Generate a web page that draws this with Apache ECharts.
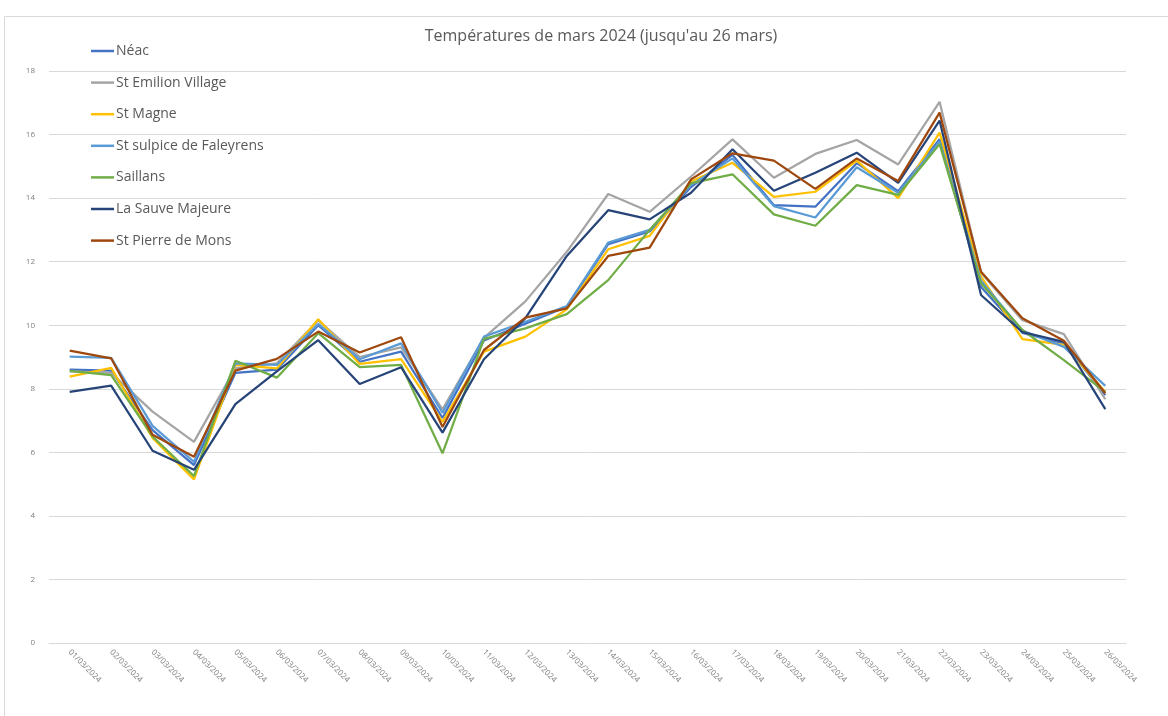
<!DOCTYPE html>
<html>
<head>
<meta charset="utf-8">
<script src="https://cdn.jsdelivr.net/npm/echarts@6/dist/echarts.min.js"></script>
<style>
  html, body { margin: 0; padding: 0; background: #fff; }
  #chart { width: 1168px; height: 716px; }
</style>
</head>
<body>
<div id="chart"></div>
<script>
const days = [
  '01/03/2024', '02/03/2024', '03/03/2024', '04/03/2024', '05/03/2024', '06/03/2024',
  '07/03/2024', '08/03/2024', '09/03/2024', '10/03/2024', '11/03/2024', '12/03/2024',
  '13/03/2024', '14/03/2024', '15/03/2024', '16/03/2024', '17/03/2024', '18/03/2024',
  '19/03/2024', '20/03/2024', '21/03/2024', '22/03/2024', '23/03/2024', '24/03/2024',
  '25/03/2024', '26/03/2024'
];

const neac = [8.6, 8.57, 6.7, 5.6, 8.5, 8.6, 10.0, 8.85, 9.17, 7.08, 9.52, 10.05, 10.58, 12.55, 12.95, 14.35, 15.36, 13.78, 13.73, 15.1, 14.22, 15.85, 11.2, 9.76, 9.43, 7.8];
const stEmilion = [8.55, 8.5, 7.28, 6.33, 8.65, 8.8, 10.15, 9.0, 9.3, 7.35, 9.6, 10.75, 12.31, 14.13, 13.57, 14.68, 15.85, 14.64, 15.39, 15.83, 15.06, 17.03, 11.65, 10.16, 9.72, 7.67];
const stMagne = [8.38, 8.66, 6.45, 5.15, 8.75, 8.64, 10.19, 8.78, 8.93, 6.96, 9.17, 9.64, 10.5, 12.39, 12.81, 14.52, 15.11, 14.04, 14.2, 15.18, 14.0, 16.06, 11.53, 9.56, 9.38, 7.9];
const stSulpice = [9.01, 8.97, 6.83, 5.7, 8.8, 8.75, 10.04, 8.93, 9.43, 7.24, 9.64, 10.11, 10.6, 12.6, 13.0, 14.41, 15.25, 13.75, 13.39, 14.97, 14.17, 15.78, 11.4, 9.83, 9.32, 8.09];
const saillans = [8.56, 8.43, 6.5, 5.25, 8.88, 8.35, 9.75, 8.68, 8.75, 5.97, 9.57, 9.9, 10.35, 11.42, 13.0, 14.47, 14.75, 13.49, 13.13, 14.41, 14.1, 15.7, 11.32, 9.85, 8.9, 7.9];
const laSauve = [7.9, 8.1, 6.05, 5.45, 7.52, 8.55, 9.53, 8.15, 8.68, 6.62, 8.93, 10.22, 12.18, 13.62, 13.33, 14.17, 15.54, 14.23, 14.8, 15.43, 14.48, 16.44, 10.95, 9.78, 9.48, 7.36];
const stPierre = [9.2, 8.96, 6.55, 5.86, 8.57, 8.94, 9.8, 9.14, 9.62, 6.8, 9.22, 10.24, 10.53, 12.18, 12.44, 14.59, 15.41, 15.18, 14.29, 15.25, 14.54, 16.69, 11.68, 10.22, 9.51, 7.86];

const yTicks = [0, 2, 4, 6, 8, 10, 12, 14, 16, 18];

const stations = [
  { name: 'Néac', data: neac, color: '#4472C4' },
  { name: 'St Emilion Village', data: stEmilion, color: '#A5A5A5' },
  { name: 'St Magne', data: stMagne, color: '#FFC000' },
  { name: 'St sulpice de Faleyrens', data: stSulpice, color: '#5B9BD5' },
  { name: 'Saillans', data: saillans, color: '#70AD47' },
  { name: 'La Sauve Majeure', data: laSauve, color: '#264478' },
  { name: 'St Pierre de Mons', data: stPierre, color: '#9E480E' }
];

const chart = echarts.init(document.getElementById('chart'));

chart.setOption({
  animation: false,
  color: stations.map(s => s.color),
  graphic: [{
    type: 'rect',
    shape: { x: 4.5, y: 16.5, width: 1200, height: 800 },
    style: { fill: 'none', stroke: '#d9d9d9', lineWidth: 1 },
    silent: true
  }],
  title: {
    text: "Températures de mars 2024 (jusqu'au 26 mars)",
    left: 596,
    textAlign: 'center',
    top: 23,
    textStyle: {
      fontFamily: 'Open Sans',
      fontSize: 16,
      fontWeight: 'normal',
      color: '#595959'
    }
  },
  legend: {
    orient: 'vertical',
    left: 86,
    top: 39,
    itemWidth: 23,
    itemHeight: 14,
    itemGap: 17.6,
    icon: 'path://M0,6 L23,6 L23,8.5 L0,8.5 Z',
    textStyle: {
      fontFamily: 'Open Sans',
      fontSize: 14,
      color: '#595959',
      padding: [0, 0, 0, -3]
    },
    data: stations.map(s => s.name)
  },
  grid: {
    left: 49,
    right: 42,
    top: 71,
    bottom: 73
  },
  xAxis: {
    type: 'category',
    data: days,
    boundaryGap: true,
    axisLine: { lineStyle: { color: '#d9d9d9' } },
    axisTick: { show: false },
    axisLabel: {
      rotate: -45,
      fontFamily: 'Open Sans',
      fontSize: 8,
      color: '#7f7f7f',
      margin: 8,
      interval: 0
    }
  },
  yAxis: {
    type: 'value',
    min: yTicks[0],
    max: yTicks[yTicks.length - 1],
    interval: 2,
    axisLine: { show: false },
    axisTick: { show: false },
    splitLine: { lineStyle: { color: '#d9d9d9' } },
    axisLabel: {
      fontFamily: 'Open Sans',
      fontSize: 8,
      color: '#7f7f7f',
      margin: 14
    }
  },
  series: stations.map(s => ({
    name: s.name,
    type: 'line',
    data: s.data,
    symbol: 'none',
    lineStyle: { width: 2.25, color: s.color },
    itemStyle: { color: s.color }
  }))
});
</script>
</body>
</html>
